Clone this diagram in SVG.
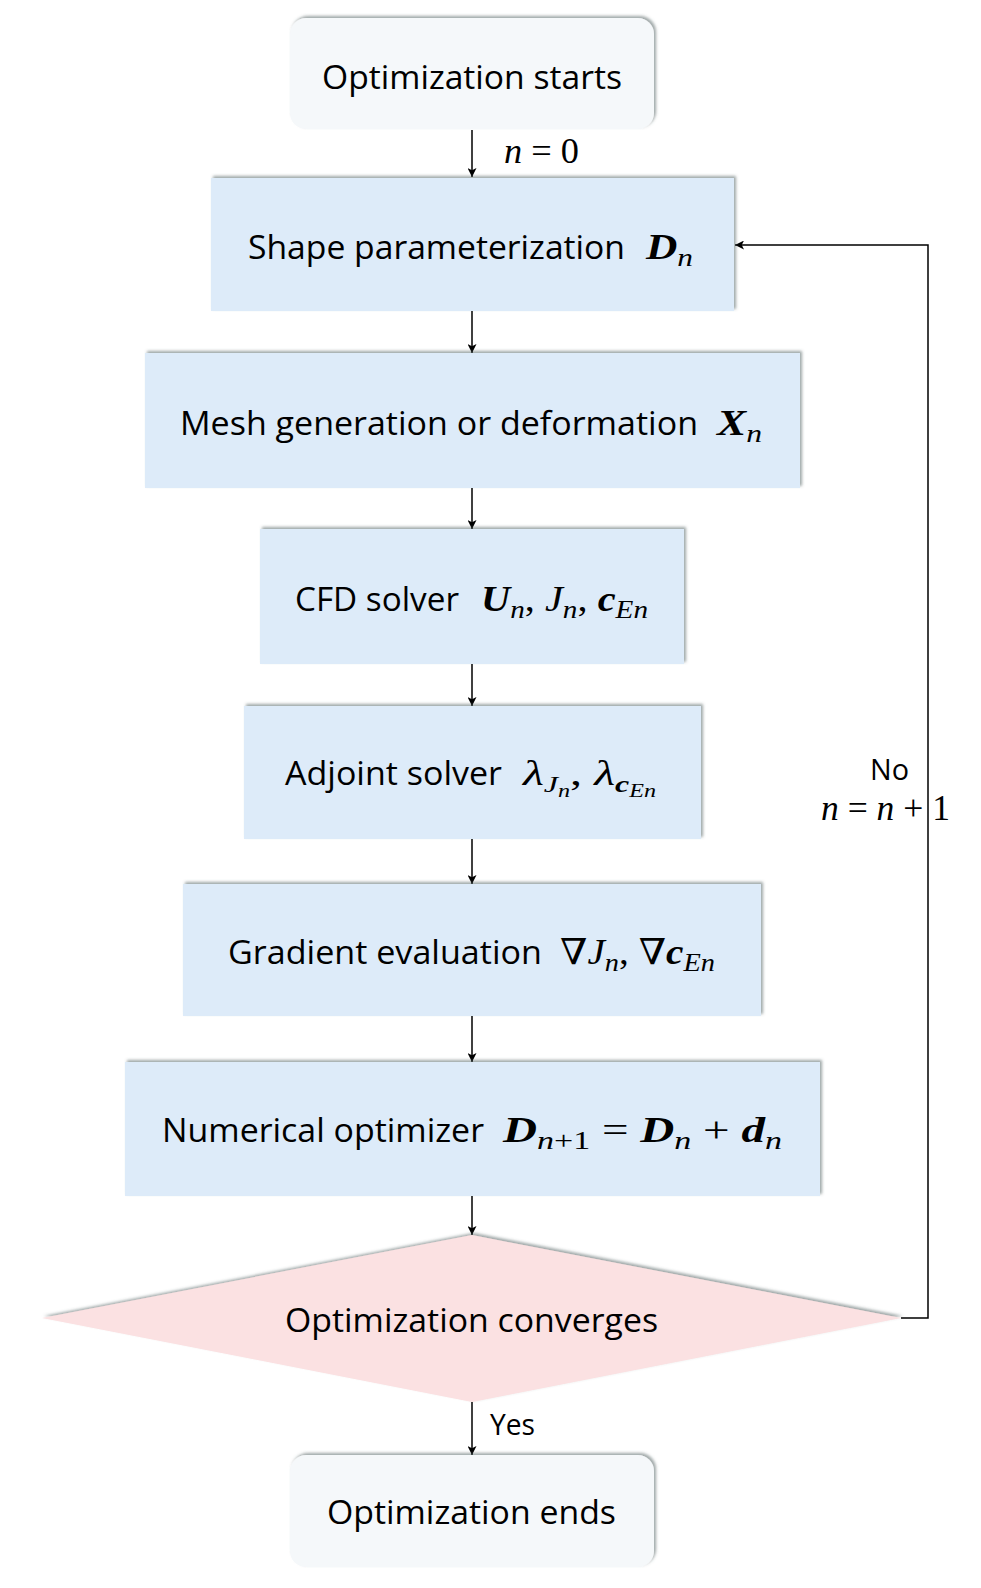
<svg xmlns="http://www.w3.org/2000/svg" width="981" height="1588" viewBox="0 0 981 1588">
<defs>
<filter id="sh" x="-5%" y="-20%" width="110%" height="140%">
<feDropShadow dx="2" dy="-2" stdDeviation="1.5" flood-color="#4f6060" flood-opacity="0.55"/>
</filter>
<marker id="ah" viewBox="0 0 10 10" refX="10" refY="5" markerWidth="9" markerHeight="9" markerUnits="userSpaceOnUse" orient="auto">
<path d="M0,0 L10,5 L0,10 L2.5,5 z" fill="#000"/>
</marker>
</defs>
<style>
.lbl{font-family:"Open Sans","Noto Sans",sans-serif;font-size:33px;fill:#000}
.sm{font-family:"Open Sans","Noto Sans",sans-serif;font-size:30px;fill:#000}
.m{font-family:"Liberation Serif","DejaVu Serif",serif;font-size:36px;font-style:italic;fill:#000}
.up{font-style:normal}
.b{font-weight:bold}
.box{fill:#DDEBF9;filter:url(#sh)}
.term{fill:#F5F8FA;filter:url(#sh)}
.dec{fill:#FBE1E2;filter:url(#sh)}
.c{fill:none;stroke:#000;stroke-width:1.5}
</style>
<rect width="981" height="1588" fill="#fff"/>

<g id="connectors">
<line class="c" x1="472" y1="130" x2="472" y2="177" marker-end="url(#ah)"/>
<line class="c" x1="472" y1="311" x2="472" y2="353" marker-end="url(#ah)"/>
<line class="c" x1="472" y1="488" x2="472" y2="529" marker-end="url(#ah)"/>
<line class="c" x1="472" y1="664" x2="472" y2="706" marker-end="url(#ah)"/>
<line class="c" x1="472" y1="839" x2="472" y2="884" marker-end="url(#ah)"/>
<line class="c" x1="472" y1="1016" x2="472" y2="1062" marker-end="url(#ah)"/>
<line class="c" x1="472" y1="1196" x2="472" y2="1235" marker-end="url(#ah)"/>
<line class="c" x1="472" y1="1402" x2="472" y2="1455" marker-end="url(#ah)"/>
<path class="c" d="M901,1318 H928 V245 H735" marker-end="url(#ah)"/>
<text class="m" x="504" y="163" textLength="75" lengthAdjust="spacingAndGlyphs" font-size="31">n<tspan class="up"> = 0</tspan></text>
<text class="sm" x="870" y="780" textLength="39" lengthAdjust="spacingAndGlyphs">No</text>
<text class="m" x="821" y="820" textLength="129" lengthAdjust="spacingAndGlyphs" font-size="31">n<tspan class="up"> = </tspan>n<tspan class="up"> + 1</tspan></text>
<text class="sm" x="490" y="1435" textLength="45" lengthAdjust="spacingAndGlyphs">Yes</text>
</g>

<g id="start">
<rect class="term" x="290" y="18" width="364" height="111" rx="16"/>
<text class="lbl" x="322" y="89" textLength="300" lengthAdjust="spacingAndGlyphs">Optimization starts</text>
</g>

<g id="shape">
<rect class="box" x="211" y="178" width="523" height="133"/>
<text class="lbl" x="248" y="259" textLength="377" lengthAdjust="spacingAndGlyphs">Shape parameterization</text>
<text class="m" x="646" y="259" textLength="47" lengthAdjust="spacingAndGlyphs"><tspan class="b">D</tspan><tspan font-size="26" dy="7">n</tspan></text>
</g>

<g id="mesh">
<rect class="box" x="145" y="353" width="655" height="135"/>
<text class="lbl" x="180" y="435" textLength="518" lengthAdjust="spacingAndGlyphs">Mesh generation or deformation</text>
<text class="m" x="717" y="435" textLength="45" lengthAdjust="spacingAndGlyphs"><tspan class="b">X</tspan><tspan font-size="26" dy="7">n</tspan></text>
</g>

<g id="cfd">
<rect class="box" x="260" y="529" width="424" height="135"/>
<text class="lbl" x="295" y="611" textLength="164" lengthAdjust="spacingAndGlyphs">CFD solver</text>
<text class="m" x="481" y="611" textLength="167" lengthAdjust="spacingAndGlyphs"><tspan class="b">U</tspan><tspan font-size="26" dy="7">n</tspan><tspan class="up" dy="-7">, </tspan>J<tspan font-size="26" dy="7">n</tspan><tspan class="up" dy="-7">, </tspan><tspan class="b">c</tspan><tspan font-size="26" dy="7">En</tspan></text>
</g>

<g id="adjoint">
<rect class="box" x="244" y="706" width="457" height="133"/>
<text class="lbl" x="285" y="785" textLength="217" lengthAdjust="spacingAndGlyphs">Adjoint solver</text>
<text class="m" x="523" y="785" textLength="133" lengthAdjust="spacingAndGlyphs">λ<tspan font-size="24" dy="7">J</tspan><tspan font-size="18" dy="5">n</tspan><tspan class="up" dy="-12">, </tspan>λ<tspan class="b" font-size="24" dy="7">c</tspan><tspan font-size="18" dy="5">En</tspan></text>
</g>

<g id="gradient">
<rect class="box" x="183" y="884" width="578" height="132"/>
<text class="lbl" x="228" y="964" textLength="314" lengthAdjust="spacingAndGlyphs">Gradient evaluation</text>
<text class="m" x="560" y="964" textLength="155" lengthAdjust="spacingAndGlyphs">∇J<tspan font-size="26" dy="7">n</tspan><tspan class="up" dy="-7">, </tspan>∇<tspan class="b">c</tspan><tspan font-size="26" dy="7">En</tspan></text>
</g>

<g id="optimizer">
<rect class="box" x="125" y="1062" width="695" height="134"/>
<text class="lbl" x="162" y="1142" textLength="322" lengthAdjust="spacingAndGlyphs">Numerical optimizer</text>
<text class="m" x="503" y="1142" textLength="279" lengthAdjust="spacingAndGlyphs"><tspan class="b">D</tspan><tspan font-size="26" dy="7">n</tspan><tspan class="up" font-size="26">+1</tspan><tspan class="up" dy="-7"> = </tspan><tspan class="b">D</tspan><tspan font-size="26" dy="7">n</tspan><tspan class="up" dy="-7"> + </tspan><tspan class="b">d</tspan><tspan font-size="26" dy="7">n</tspan></text>
</g>

<g id="converges">
<polygon class="dec" points="42,1318 472,1235 901,1318 472,1402"/>
<text class="lbl" x="285" y="1332" textLength="373" lengthAdjust="spacingAndGlyphs">Optimization converges</text>
</g>

<g id="end">
<rect class="term" x="290" y="1455" width="364" height="112" rx="16"/>
<text class="lbl" x="327" y="1524" textLength="289" lengthAdjust="spacingAndGlyphs">Optimization ends</text>
</g>
</svg>
